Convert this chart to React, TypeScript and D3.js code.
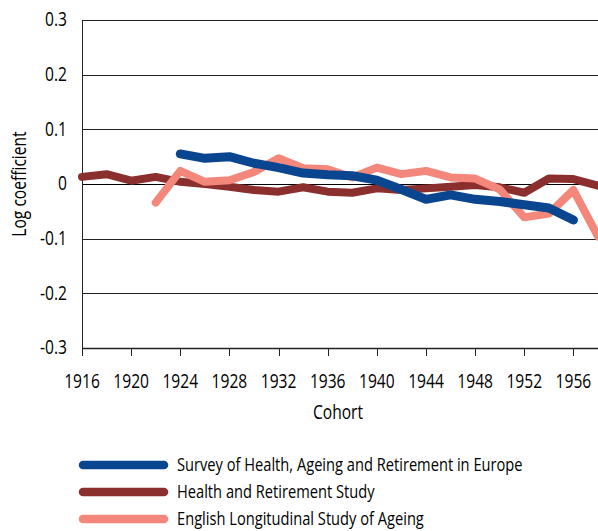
import React, { useEffect, useRef } from 'react';
import * as d3 from 'd3';

const shareYears = [1924, 1926, 1928, 1930, 1932, 1934, 1936, 1938, 1940, 1942, 1944, 1946, 1948, 1950, 1952, 1954, 1956];
const shareValues = [0.055, 0.047, 0.05, 0.038, 0.03, 0.02, 0.017, 0.015, 0.007, -0.01, -0.028, -0.02, -0.028, -0.032, -0.038, -0.044, -0.066];

const hrsYears = [1916, 1918, 1920, 1922, 1924, 1926, 1928, 1930, 1932, 1934, 1936, 1938, 1940, 1942, 1944, 1946, 1948, 1950, 1952, 1954, 1956, 1958];
const hrsValues = [0.013, 0.018, 0.006, 0.013, 0.004, 0, -0.005, -0.011, -0.014, -0.006, -0.014, -0.016, -0.008, -0.011, -0.008, -0.005, -0.002, -0.006, -0.016, 0.01, 0.009, -0.003];

const elsaYears = [1922, 1924, 1926, 1928, 1930, 1932, 1934, 1936, 1938, 1940, 1942, 1944, 1946, 1948, 1950, 1952, 1954, 1956, 1958];
const elsaValues = [-0.034, 0.024, 0.004, 0.007, 0.022, 0.047, 0.029, 0.027, 0.012, 0.03, 0.018, 0.024, 0.012, 0.01, -0.01, -0.061, -0.054, -0.011, -0.096];

const yTicks = [0.3, 0.2, 0.1, 0, -0.1, -0.2, -0.3];
const xTicks = [1916, 1920, 1924, 1928, 1932, 1936, 1940, 1944, 1948, 1952, 1956];

const seriesNames = [
  'Survey of Health, Ageing and Retirement in Europe',
  'Health and Retirement Study',
  'English Longitudinal Study of Ageing',
];
const seriesColors = ['#0a4690', '#8b2e2e', '#f4877c'];

const FONT = '"Open Sans", "Noto Sans", sans-serif';
const SQUEEZE = 0.78; // condensed look

const App = () => {
  const svgRef = useRef<SVGSVGElement>(null);

  useEffect(() => {
    const width = 598;
    const height = 531;
    const margin = { top: 20, right: 0, bottom: 183, left: 82 };

    const svg = d3.select(svgRef.current);
    svg.selectAll('*').remove();
    svg.attr('width', width).attr('height', height).style('display', 'block');

    const x = d3.scaleLinear().domain([1916, 1958]).range([margin.left, width - margin.right]);
    const y = d3.scaleLinear().domain([-0.3, 0.3]).range([height - margin.bottom, margin.top]);

    const addText = (g: any, tx: number, ty: number, str: string, size: number, anchor: string, rotate = 0) => {
      g.append('text')
        .attr('transform', `translate(${tx},${ty}) rotate(${rotate}) scale(${SQUEEZE},1)`)
        .attr('text-anchor', anchor)
        .attr('dy', '0.36em')
        .style('font-family', FONT)
        .style('font-size', `${size}px`)
        .style('font-weight', 500)
        .attr('fill', '#000')
        .text(str);
    };

    svg.append('defs').append('clipPath').attr('id', 'plotclip')
      .append('rect')
      .attr('x', margin.left - 10).attr('y', 0)
      .attr('width', width - margin.left + 10).attr('height', height - margin.bottom);

    // gridlines
    svg.append('g')
      .selectAll('line')
      .data(yTicks)
      .enter()
      .append('line')
      .attr('x1', margin.left)
      .attr('x2', width)
      .attr('y1', d => Math.round(y(d)) + 0.5)
      .attr('y2', d => Math.round(y(d)) + 0.5)
      .attr('stroke', d => (d === 0 ? '#000' : '#222'))
      .attr('stroke-width', d => (d === -0.3 ? 1.5 : 1));

    // y axis line
    svg.append('line')
      .attr('x1', margin.left + 0.5).attr('x2', margin.left + 0.5)
      .attr('y1', y(0.3)).attr('y2', y(-0.3) + 8)
      .attr('stroke', '#222');

    const fmt = (d: number) => (d === 0 ? '0' : d.toFixed(1));
    const yLabels = svg.append('g');
    yTicks.forEach(d => addText(yLabels, 67, y(d) - 1, fmt(d), 20, 'end'));

    // x ticks
    svg.append('g')
      .selectAll('line')
      .data(xTicks)
      .enter()
      .append('line')
      .attr('x1', d => Math.round(x(d)) + 0.5)
      .attr('x2', d => Math.round(x(d)) + 0.5)
      .attr('y1', y(-0.3))
      .attr('y2', y(-0.3) + 8)
      .attr('stroke', '#222');

    const xLabels = svg.append('g');
    xTicks.forEach(d => addText(xLabels, x(d), y(-0.3) + 33, String(d), 20, 'middle'));

    // axis titles
    addText(svg, 338, 412, 'Cohort', 20, 'middle');
    addText(svg, 19, y(0), 'Log coefficient', 20, 'middle', -90);

    const line = d3.line<[number, number]>()
      .x(d => x(d[0]))
      .y(d => y(d[1]));

    const series: [number, number][][] = [
      shareYears.map((yr, i) => [yr, shareValues[i]]),
      hrsYears.map((yr, i) => [yr, hrsValues[i]]),
      elsaYears.map((yr, i) => [yr, elsaValues[i]]),
    ];

    const plot = svg.append('g').attr('clip-path', 'url(#plotclip)');
    // draw order: HRS, ELSA, SHARE on top
    [1, 2, 0].forEach(i => {
      plot.append('path')
        .datum(series[i])
        .attr('d', line)
        .attr('fill', 'none')
        .attr('stroke', seriesColors[i])
        .attr('stroke-width', i === 0 ? 9 : 8)
        .attr('stroke-linecap', 'round')
        .attr('stroke-linejoin', 'round');
    });

    // legend
    const legend = svg.append('g');
    seriesNames.forEach((name, i) => {
      const ly = 465 + i * 27;
      legend.append('line')
        .attr('x1', 83).attr('x2', 164)
        .attr('y1', ly).attr('y2', ly)
        .attr('stroke', seriesColors[i])
        .attr('stroke-width', 8.5)
        .attr('stroke-linecap', 'round');
      addText(legend, 177, ly - 1, name, 18.8, 'start');
    });
  }, []);

  return (
    <div style={{ position: 'absolute', left: 0, top: 0, width: 598, height: 531, overflow: 'hidden', background: '#fff' }}>
      <svg ref={svgRef}></svg>
    </div>
  );
};

export default App;
